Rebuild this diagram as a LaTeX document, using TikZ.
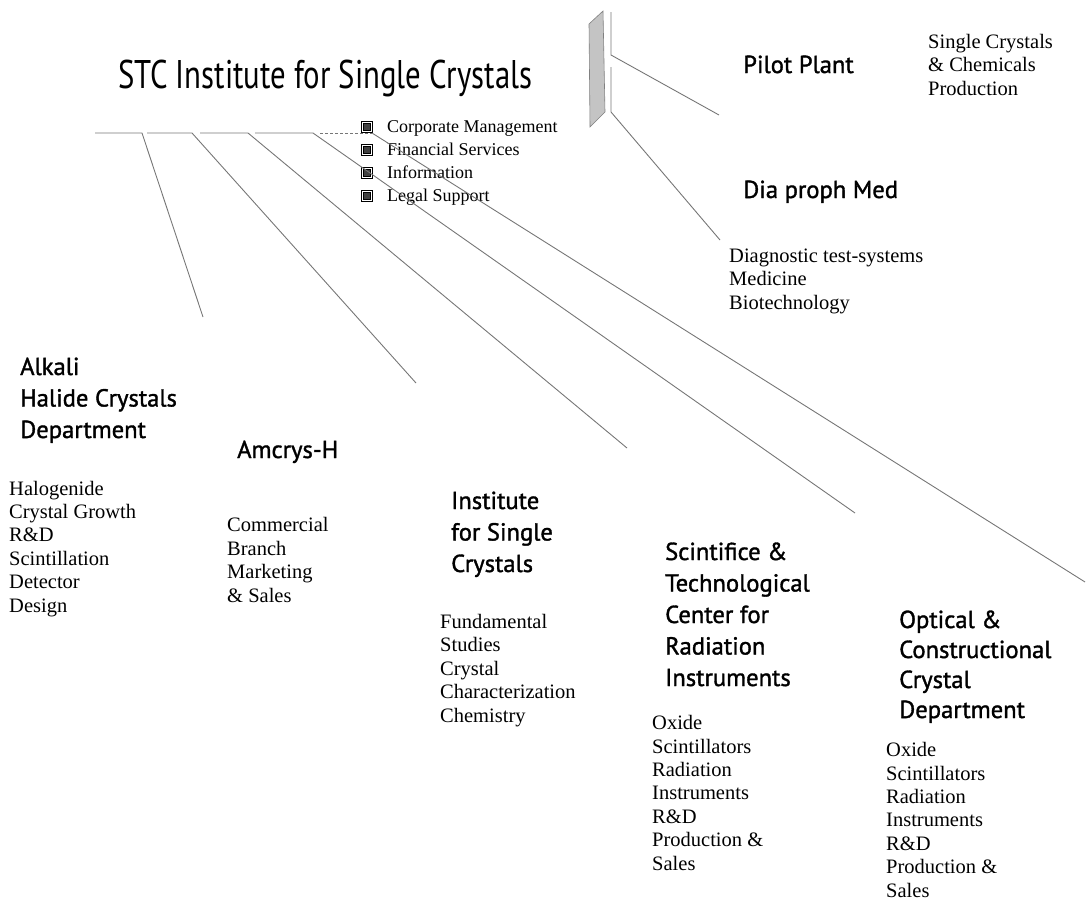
\documentclass[tikz,border=0pt]{standalone}
\usepackage{fontspec}
\usepackage{graphicx}
\setmainfont{Liberation Serif}
\newfontfamily\titlefont{PT Sans}
\newfontfamily\headfont[FakeBold=1.4]{PT Sans}
\usepackage{tikz}
\usetikzlibrary{positioning,calc}
\definecolor{linkgray}{HTML}{767676}
\definecolor{slabgray}{HTML}{C4C4C4}
\tikzset{
  link/.style={draw=linkgray, line width=0.9pt},
  linkdash/.style={link, dash pattern=on 3pt off 2pt},
  headtext/.style={
    font=\headfont\fontsize{24.6}{31.5}\selectfont,
    align=left, anchor=base west, inner sep=0pt
  },
  bodytext/.style={
    font=\fontsize{20.5}{23.4}\selectfont,
    align=left, anchor=base west, inner sep=0pt
  },
  itemtext/.style={
    font=\fontsize{18}{23}\selectfont,
    anchor=base west, inner sep=0pt
  },
  itembox/.style={
    rectangle, draw=black, fill=black!75, line width=0.6pt,
    double=white, double distance=1.4pt,
    minimum size=8.5pt, inner sep=0pt
  },
  slab/.style={draw=black!50, fill=slabgray, line width=0.6pt},
}

\begin{document}
\begin{tikzpicture}[x=1pt, y=-1pt]
\useasboundingbox (0,0) rectangle (1091,911);

% Title and service list
\node[font=\titlefont\fontsize{40}{48}\selectfont, anchor=base west, inner sep=0pt]
  (title) at (118,88) {\resizebox{414pt}{\height}{STC Institute for Single Crystals}};

\node[itembox] (sq1) at (367,127) {};
\node[itembox] (sq2) at (367,150) {};
\node[itembox] (sq3) at (367,173) {};
\node[itembox] (sq4) at (367,196) {};
\node[itemtext] (corp) at (387,132) {Corporate Management};
\node[itemtext] (fin)  at (387,155) {Financial Services};
\node[itemtext] (info) at (387,178) {Information};
\node[itemtext] (legal) at (387,201) {Legal Support};

% Slab and right-hand branches
\draw[slab] (589,24) -- (603,11) -- (605,112) -- (590,127) -- cycle;
\coordinate (pp_top) at (611,12);
\coordinate (pp_bend) at (611,55);
\coordinate (pp_tip) at (719,115);
\coordinate (dm_top) at (611,67);
\coordinate (dm_bend) at (611,112);
\coordinate (dm_tip) at (720,240);
\draw[link] (pp_top) -- (pp_bend) -- (pp_tip);
\draw[link] (dm_top) -- (dm_bend) -- (dm_tip);

% (base anchor = baseline of the last line)
\node[headtext] (pilot) at (743,73) {Pilot Plant};
\node[bodytext] (pilot_txt) at (928,95) {Single Crystals\\ \& Chemicals\\ Production};
\node[headtext] (diaph) at (743,198) {Dia proph Med};
\node[bodytext] (diaph_txt) at (729,309) {Diagnostic test-systems\\ Medicine\\ Biotechnology};

% Bar with the five department branches
\coordinate (b1w) at (95,133);  \coordinate (b1e) at (142,133);
\coordinate (b2w) at (147,133); \coordinate (b2e) at (192,133);
\coordinate (b3w) at (200,133); \coordinate (b3e) at (248,133);
\coordinate (b4w) at (255,133); \coordinate (b4e) at (313,133);
\coordinate (b5w) at (320,133); \coordinate (b5e) at (372,133);
\coordinate (ahc_tip) at (203,317);
\coordinate (amc_tip) at (416,383);
\coordinate (isc_tip) at (627,448);
\coordinate (stc_tip) at (855,513);
\coordinate (occ_tip) at (1085,582);
\draw[link] (b1w) -- (b1e) -- (ahc_tip);
\draw[link] (b2w) -- (b2e) -- (amc_tip);
\draw[link] (b3w) -- (b3e) -- (isc_tip);
\draw[link] (b4w) -- (b4e) -- (stc_tip);
\draw[linkdash] (b5w) -- (b5e);
\draw[link] (b5e) -- (occ_tip);

% Departments
\node[headtext] (ahc) at (20,438) {Alkali\\ Halide Crystals\\ Department};
\node[bodytext] (ahc_txt) at (9,612) {Halogenide\\ Crystal Growth\\ R\&D\\ Scintillation\\ Detector\\ Design};

\node[headtext] (amc) at (237,458) {Amcrys-H};
\node[bodytext] (amc_txt) at (227,602) {Commercial\\ Branch\\ Marketing\\ \& Sales};

\node[headtext] (isc) at (451,572) {Institute\\ for Single\\ Crystals};
\node[bodytext] (isc_txt) at (440,722) {Fundamental\\ Studies\\ Crystal\\ Characterization\\ Chemistry};

\node[headtext] (stc) at (665,686) {Scintifice \&\\ Technological\\ Center for\\ Radiation\\ Instruments};
\node[bodytext] (stc_txt) at (652,870) {Oxide\\ Scintillators\\ Radiation\\ Instruments\\ R\&D\\ Production \&\\ Sales};

\node[headtext, font=\headfont\fontsize{24.6}{30}\selectfont] (occ) at (899,718) {Optical \&\\ Constructional\\ Crystal\\ Department};
\node[bodytext] (occ_txt) at (886,897) {Oxide\\ Scintillators\\ Radiation\\ Instruments\\ R\&D\\ Production \&\\ Sales};

\end{tikzpicture}
\end{document}
